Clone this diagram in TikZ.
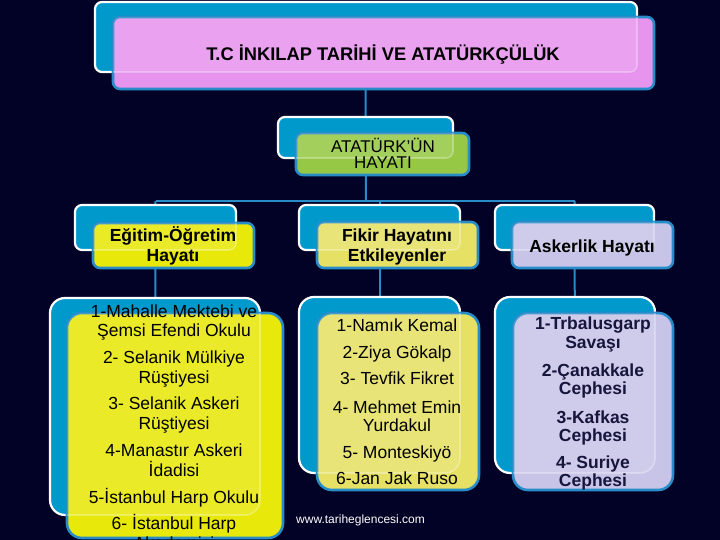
\documentclass[tikz,border=0pt]{standalone}
\usepackage{fontspec}
\setmainfont{Liberation Sans}
\usetikzlibrary{fit,backgrounds}
\definecolor{bgc}{RGB}{2,2,38}
\definecolor{backblue}{RGB}{0,153,204}
\definecolor{edgeblue}{RGB}{40,140,200}
\definecolor{connblue}{RGB}{40,140,200}
\definecolor{pinkc}{RGB}{230,148,238}
\definecolor{greenc}{RGB}{150,200,70}
\definecolor{yelc}{RGB}{232,232,10}
\definecolor{paleyel}{RGB}{230,225,100}
\definecolor{lavc}{RGB}{200,196,232}
\definecolor{navyt}{RGB}{22,22,60}
\pgfdeclarelayer{bglayer}
\pgfdeclarelayer{lines}
\pgfsetlayers{bglayer,lines,main}
\newcommand\pairbox[7]{%
 \node[backbox, rounded corners=#7, fit={(#2) (#3)}] (#1b) {};
 \node[frontbox, rounded corners=#7, fill=#6, fit={(#4) (#5)}] (#1f) {};
 \begin{scope}
  \clip[rounded corners=#7] (#1f.north west) rectangle (#1f.south east);
  \fill[white, opacity=.13, rounded corners=#7] (#1b.north west) rectangle (#1b.south east);
  \draw[white, opacity=.3, line width=1.6pt, rounded corners=#7] (#1b.north west) rectangle (#1b.south east);
 \end{scope}}
\begin{document}
\begin{tikzpicture}[x=1pt,y=-1pt,
  backbox/.style={draw=white, line width=2.2pt, fill=backblue, inner sep=0pt, outer sep=0pt},
  frontbox/.style={draw=edgeblue, line width=2.6pt, inner sep=0pt, outer sep=0pt},
  conn/.style={draw=connblue, line width=2pt},
  txt/.style={font=\fontsize{17.5}{19.5}\selectfont, text=black, inner sep=0pt, anchor=base},
  btxt/.style={txt, font=\bfseries\fontsize{17.5}{19.5}\selectfont},
  ntxt/.style={btxt, text=navyt}]
\begin{pgfonlayer}{bglayer}
\fill[bgc] (0,0) rectangle (720,540);
\end{pgfonlayer}
\useasboundingbox (0,0) rectangle (720,540);
\clip (0,0) rectangle (720,540);

% boxes
\pairbox{t}{95,2}{637,72}{113,17}{654,89}{pinkc}{7pt}
\pairbox{m}{278,117}{453,158}{296,133}{469,175}{greenc}{7pt}
\pairbox{ha}{75,205}{236,250}{93,223}{254,268}{yelc}{7pt}
\pairbox{hb}{299,205}{460,250}{317,222}{478,268}{paleyel}{7pt}
\pairbox{hc}{495,205}{654,250}{512,222}{673,268}{lavc}{7pt}
\pairbox{la}{50,298}{260,515}{67,313}{283,538}{yelc}{15pt}
\pairbox{lb}{299,297}{460,473}{317,313}{479,490}{paleyel}{15pt}
\pairbox{lc}{495,297}{655,473}{513,313}{673,490}{lavc}{15pt}

% connectors
\coordinate (bus) at (366,201);
\begin{pgfonlayer}{lines}
\draw[conn] (tb.center) -- (mb.center);
\draw[conn] (mb.center) -- (bus);
\draw[conn] (hab.center |- bus) -- (hcb.center |- bus);
\draw[conn] (hab.center |- bus) -- (lab.center);
\draw[conn] (hbb.center |- bus) -- (lbb.center);
\draw[conn] (hcb.center |- bus) -- (lcb.center);
\end{pgfonlayer}

% texts
\node[txt, font=\bfseries\fontsize{18.3}{20}\selectfont] (ttl) at (383,61) {T.C İNKILAP TARİHİ VE ATATÜRKÇÜLÜK};
\node[txt, font=\fontsize{17}{18}\selectfont] (m1) at (383,153) {ATATÜRK’ÜN};
\node[txt, font=\fontsize{17}{18}\selectfont] (m2) at (383,169) {HAYATI};

\node[btxt] (ha1) at (173,241) {Eğitim-Öğretim};
\node[btxt] (ha2) at (173,261) {Hayatı};
\node[btxt] (hb1) at (397,241) {Fikir Hayatını};
\node[btxt] (hb2) at (397,261) {Etkileyenler};
\node[btxt] (hc1) at (592,252) {Askerlik Hayatı};

\foreach \t/\y [count=\i] in {1-Mahalle Mektebi ve/317, Şemsi Efendi Okulu/336,
  2- Selanik Mülkiye/363, Rüştiyesi/383, 3- Selanik Askeri/409, Rüştiyesi/429,
  4-Manastır Askeri/456, İdadisi/476, 5-İstanbul Harp Okulu/503,
  6- İstanbul Harp/529, Akademisi/549}
  \node[txt] (a\i) at (174,\y) {\t};

\foreach \t/\y [count=\i] in {1-Namık Kemal/331, 2-Ziya Gökalp/358,
  3- Tevfik Fikret/384, 4- Mehmet Emin/413, Yurdakul/431,
  5- Monteskiyö/458, 6-Jan Jak Ruso/484}
  \node[txt] (b\i) at (397,\y) {\t};

\foreach \t/\y [count=\i] in {1-Trbalusgarp/329, Savaşı/348,
  2-Çanakkale/376, Cephesi/394, 3-Kafkas/423, Cephesi/441,
  4- Suriye/468, Cephesi/486}
  \node[ntxt] (c\i) at (593,\y) {\t};

\node[txt, anchor=base west, text=white, font=\fontsize{12}{14}\selectfont] (www) at (296,523) {www.tariheglencesi.com};
\end{tikzpicture}
\end{document}
